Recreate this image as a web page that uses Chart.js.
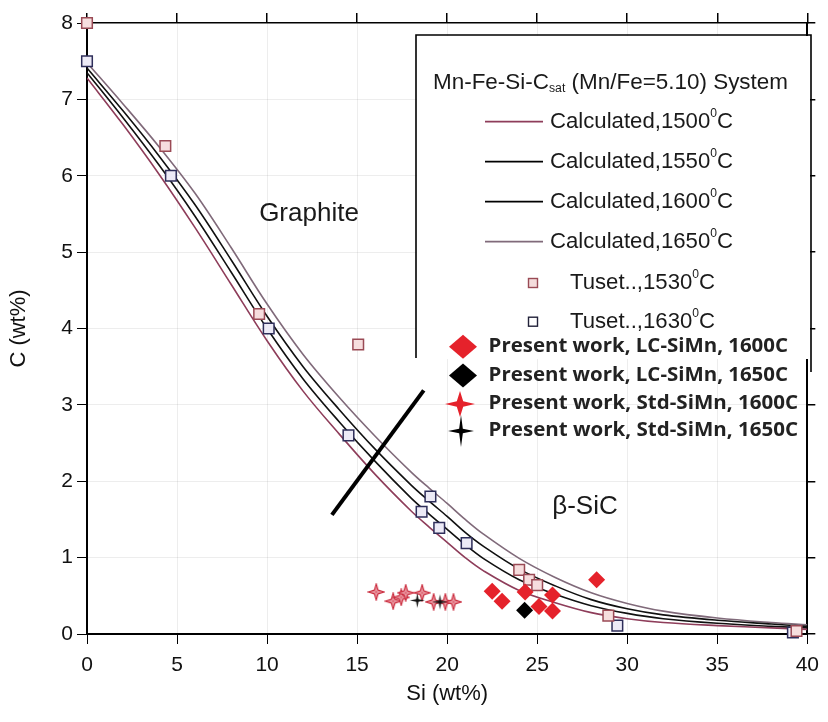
<!DOCTYPE html>
<html>
<head>
<meta charset="utf-8">
<script src="https://cdn.jsdelivr.net/npm/chart.js@4.4.0/dist/chart.umd.min.js"></script>
<style>
  html, body { margin: 0; padding: 0; background: #fff; }
  #wrap { width: 828px; height: 722px; position: relative; }
</style>
</head>
<body>
<div id="wrap"><canvas id="c" width="828" height="722"></canvas></div>
<script>
// ---- Calculated C-saturation curves (Si wt% grid, C wt%) ----
const siGrid   = [0, 2, 4, 6, 8, 10, 12, 14, 16, 18, 19, 20, 21, 22, 24, 26, 28, 30, 32, 35, 38, 40];
const calc1650 = [7.48, 6.94, 6.38, 5.77, 5.06, 4.32, 3.66, 3.10, 2.59, 2.12, 1.91, 1.71, 1.50, 1.31, 0.99, 0.74, 0.54, 0.40, 0.30, 0.21, 0.15, 0.12];
const calc1600 = [7.41, 6.85, 6.26, 5.62, 4.90, 4.16, 3.50, 2.94, 2.42, 1.95, 1.74, 1.54, 1.33, 1.15, 0.85, 0.63, 0.45, 0.33, 0.25, 0.18, 0.13, 0.10];
const calc1550 = [7.35, 6.76, 6.14, 5.47, 4.74, 4.00, 3.34, 2.78, 2.26, 1.78, 1.57, 1.37, 1.17, 0.99, 0.71, 0.52, 0.37, 0.27, 0.20, 0.14, 0.10, 0.08];
const calc1500 = [7.28, 6.67, 6.02, 5.32, 4.58, 3.84, 3.18, 2.62, 2.09, 1.61, 1.40, 1.20, 1.00, 0.83, 0.57, 0.41, 0.28, 0.20, 0.15, 0.11, 0.08, 0.06];

// ---- Literature data (Tuset) ----
const tuset1530Si = [0, 4.35, 9.56, 15.06, 24.0, 24.55, 25.0, 28.95, 39.4];
const tuset1530C  = [8.0, 6.39, 4.19, 3.79, 0.84, 0.71, 0.64, 0.24, 0.04];
const tuset1630Si = [0, 4.66, 10.09, 14.52, 18.58, 19.07, 19.56, 21.08, 29.45, 39.2];
const tuset1630C  = [7.5, 6.0, 4.0, 2.6, 1.6, 1.8, 1.39, 1.19, 0.11, 0.02];

// ---- Present work ----
const lc1600Si  = [22.5, 23.05, 24.33, 25.1, 25.85, 25.85, 28.3];
const lc1600C   = [0.56, 0.43, 0.55, 0.36, 0.51, 0.30, 0.71];
const lc1650Si  = [24.3];
const lc1650C   = [0.31];
const std1600Si = [16.06, 17.0, 17.45, 17.7, 18.61, 19.25, 19.9, 20.35];
const std1600C  = [0.55, 0.43, 0.48, 0.54, 0.54, 0.42, 0.42, 0.42];
const std1650Si = [18.34, 19.6];
const std1650C  = [0.44, 0.42];

// graphite / beta-SiC boundary marker line
const boundSi = [13.6, 18.7];
const boundC  = [1.56, 3.19];

// axis ticks
const siTicks = [0, 5, 10, 15, 20, 25, 30, 35, 40];
const cTicks  = [0, 1, 2, 3, 4, 5, 6, 7, 8];

const legendTitle = ['Mn-Fe-Si-C', 'sat', ' (Mn/Fe=5.10) System'];
const calcLabels  = ['Calculated,1500', 'Calculated,1550', 'Calculated,1600', 'Calculated,1650'];
const tusetLabels = ['Tuset..,1530', 'Tuset..,1630'];
const workLabels  = ['Present work, LC-SiMn, 1600C', 'Present work, LC-SiMn, 1650C',
                     'Present work, Std-SiMn, 1600C', 'Present work, Std-SiMn, 1650C'];

const pts = (xs, ys) => xs.map((x, i) => ({ x, y: ys[i] }));

// four-pointed star path
function starPath(g, cx, cy, rx, ry, k) {
  g.beginPath();
  for (let i = 0; i < 8; i++) {
    const a = i * Math.PI / 4 - Math.PI / 2;
    const f = i % 2 === 0 ? 1 : k;
    g.lineTo(cx + rx * f * Math.cos(a), cy + ry * f * Math.sin(a));
  }
  g.closePath();
}
function starImage(size, fill, stroke, k, cross) {
  const c = document.createElement('canvas');
  c.width = size; c.height = size;
  const g = c.getContext('2d');
  const r = size / 2 - 1;
  starPath(g, size / 2, size / 2, r, r, k);
  g.fillStyle = fill; g.fill();
  if (stroke) { g.strokeStyle = stroke; g.lineWidth = 1.2; g.stroke(); }
  if (cross) {
    g.strokeStyle = cross; g.lineWidth = 1;
    g.beginPath();
    g.moveTo(size / 2, 3); g.lineTo(size / 2, size - 3);
    g.moveTo(3, size / 2); g.lineTo(size - 3, size / 2);
    g.stroke();
  }
  return c;
}
const redStar = starImage(18, '#fbe1e4', '#c92a3c', 0.32, '#d84a5a');
const blackStar = starImage(17, '#111', null, 0.22, null);

const COL1500 = '#8e3d5a';
const COL1650 = '#806a7a';

function curve(label, ys, color, w) {
  return {
    label, data: pts(siGrid, ys), showLine: true, borderColor: color, borderWidth: w,
    pointRadius: 0, tension: 0.35, fill: false, order: 20
  };
}

// text runs with optional sub/superscripts, squeezed to a target width
function drawRuns(g, runs, x, y, width) {
  let total = 0;
  runs.forEach(r => { g.font = r.font; total += g.measureText(r.t).width; });
  const sx = width ? width / total : 1;
  g.save();
  g.translate(x, y);
  g.scale(sx, 1);
  let cx = 0;
  runs.forEach(r => {
    g.font = r.font;
    g.fillText(r.t, cx, r.dy || 0);
    cx += g.measureText(r.t).width;
  });
  g.restore();
}

const decor = {
  id: 'decor',
  beforeDatasetsDraw(chart) {
    const g = chart.ctx;
    g.save();
    g.fillStyle = '#fff';
    g.fillRect(417, 36, 393, 323);
    g.restore();
  },
  afterDatasetsDraw(chart) {
    const g = chart.ctx;
    g.save();
    g.fillStyle = '#1a1a1a';
    g.textBaseline = 'middle';
    g.font = '26px "Liberation Sans", Arial, sans-serif';
    g.textAlign = 'center';
    g.fillText('Graphite', 309, 214);
    g.fillText('\u03B2-SiC', 585, 507);
    g.textAlign = 'left';

    // legend frame (open at the bottom)
    g.strokeStyle = '#000';
    g.lineWidth = 1.6;
    g.beginPath();
    g.moveTo(416, 358); g.lineTo(416, 35); g.lineTo(811, 35); g.lineTo(811, 372);
    g.stroke();

    const F = '"Liberation Sans", Arial, sans-serif';
    const big = '22px ' + F, small = '12px ' + F;
    drawRuns(g, [{ t: legendTitle[0], font: big }, { t: legendTitle[1], font: small, dy: 6 },
                 { t: legendTitle[2], font: big }], 433, 83, 355);

    const rowY = [121.7, 161.7, 201.7, 241.7];
    const rowCol = [COL1500, '#000', '#000', COL1650];
    rowY.forEach((y, i) => {
      g.strokeStyle = rowCol[i];
      g.lineWidth = 1.8;
      g.beginPath(); g.moveTo(485, y); g.lineTo(543, y); g.stroke();
      drawRuns(g, [{ t: calcLabels[i], font: big }, { t: '0', font: small, dy: -8 }, { t: 'C', font: big }], 550, y, 183);
    });

    const tY = [283, 321.7];
    const tBorder = ['#9a4a55', '#22223a'];
    const tFill = ['#f4dcdc', '#ffffff'];
    tY.forEach((y, i) => {
      g.fillStyle = tFill[i]; g.strokeStyle = tBorder[i]; g.lineWidth = 1.4;
      g.fillRect(528.5, y - 4.5, 9, 9); g.strokeRect(528.5, y - 4.5, 9, 9);
      g.fillStyle = '#1a1a1a';
      drawRuns(g, [{ t: tusetLabels[i], font: big }, { t: '0', font: small, dy: -8 }, { t: 'C', font: big }], 570, y, 145);
    });

    // present-work entries
    const wY = [346.8, 375.5, 404, 431];
    const wEnd = [788, 788, 798, 798];
    const WF = 'bold 19px "Open Sans", "Noto Sans", sans-serif';
    g.fillStyle = '#e5222b';
    g.beginPath(); g.moveTo(463, wY[0] - 12); g.lineTo(477, wY[0]); g.lineTo(463, wY[0] + 12); g.lineTo(449, wY[0]); g.closePath(); g.fill();
    g.fillStyle = '#000';
    g.beginPath(); g.moveTo(463, wY[1] - 12); g.lineTo(477, wY[1]); g.lineTo(463, wY[1] + 12); g.lineTo(449, wY[1]); g.closePath(); g.fill();
    g.fillStyle = '#e5222b';
    starPath(g, 460, wY[2], 15, 13, 0.3); g.fill();
    g.fillStyle = '#000';
    starPath(g, 461, wY[3], 13, 16, 0.2); g.fill();

    g.fillStyle = '#222';
    wY.forEach((y, i) => {
      drawRuns(g, [{ t: workLabels[i], font: WF }], 488.6, y, wEnd[i] - 488.6);
    });
    g.restore();
  }
};

const FONT = '"Liberation Sans", Arial, sans-serif';
const edgeX = v => (v === siTicks[0] || v === siTicks[siTicks.length - 1]);
const edgeY = v => (v === cTicks[0] || v === cTicks[cTicks.length - 1]);

new Chart(document.getElementById('c'), {
  type: 'scatter',
  data: {
    datasets: [
      { label: workLabels[1], data: pts(lc1650Si, lc1650C), pointStyle: 'rectRot', pointRadius: 8.5,
        backgroundColor: '#000', borderColor: '#000', borderWidth: 0, order: 1, clip: false },
      { label: workLabels[0], data: pts(lc1600Si, lc1600C), pointStyle: 'rectRot', pointRadius: 8.5,
        backgroundColor: '#e5222b', borderColor: '#e5222b', borderWidth: 0, order: 2, clip: false },
      { label: workLabels[3], data: pts(std1650Si, std1650C), pointStyle: blackStar, order: 3, clip: false },
      { label: workLabels[2], data: pts(std1600Si, std1600C), pointStyle: redStar, order: 4, clip: false },
      { label: tusetLabels[0], data: pts(tuset1530Si, tuset1530C), pointStyle: 'rect', pointRadius: 7.5,
        backgroundColor: '#f6dede', borderColor: '#9a4a55', borderWidth: 1.5, order: 5, clip: false },
      { label: tusetLabels[1], data: pts(tuset1630Si, tuset1630C), pointStyle: 'rect', pointRadius: 7.5,
        backgroundColor: '#eceaf6', borderColor: '#2e2e5a', borderWidth: 1.5, order: 6, clip: false },
      { label: 'boundary', data: pts(boundSi, boundC), showLine: true, borderColor: '#000', borderWidth: 4,
        pointRadius: 0, order: 10 },
      curve(calcLabels[0], calc1500, COL1500, 1.6),
      curve(calcLabels[1], calc1550, '#111', 1.6),
      curve(calcLabels[2], calc1600, '#111', 1.6),
      curve(calcLabels[3], calc1650, COL1650, 1.6)
    ]
  },
  options: {
    responsive: false,
    animation: false,
    devicePixelRatio: 1,
    layout: { padding: 0 },
    plugins: { legend: { display: false }, tooltip: { enabled: false } },
    scales: {
      x: {
        type: 'linear', position: 'bottom', min: 0, max: 40,
        afterBuildTicks: s => { s.ticks = siTicks.map(v => ({ value: v })); },
        ticks: { font: { family: FONT, size: 21 }, color: '#111', padding: 9 },
        grid: { color: c => edgeX(c.tick.value) ? 'rgba(0,0,0,0)' : 'rgba(0,0,0,0.07)',
                tickColor: '#000', tickLength: 10, lineWidth: 1 },
        border: { color: '#000', width: 2 },
        title: { display: true, text: 'Si (wt%)', font: { family: FONT, size: 22 }, color: '#111',
                 padding: { top: 0, bottom: 15 } },
        afterFit: s => { s.height = 88; }
      },
      y: {
        type: 'linear', position: 'left', min: 0, max: 8,
        afterBuildTicks: s => { s.ticks = cTicks.map(v => ({ value: v })); },
        ticks: { font: { family: FONT, size: 21 }, color: '#111', padding: 4 },
        grid: { color: c => edgeY(c.tick.value) ? 'rgba(0,0,0,0)' : 'rgba(0,0,0,0.07)',
                tickColor: '#000', tickLength: 10, lineWidth: 1 },
        border: { color: '#000', width: 2 },
        title: { display: true, text: 'C (wt%)', font: { family: FONT, size: 22 }, color: '#111',
                 padding: { top: 6, bottom: 0 } },
        afterFit: s => { s.width = 87; }
      },
      x2: {
        type: 'linear', position: 'top', min: 0, max: 40,
        afterBuildTicks: s => { s.ticks = siTicks.map(v => ({ value: v })); },
        ticks: { display: false },
        grid: { drawOnChartArea: false, tickColor: '#000', tickLength: 10, lineWidth: 1.5 },
        border: { color: '#000', width: 1.5 },
        afterFit: s => { s.height = 23; }
      },
      y2: {
        type: 'linear', position: 'right', min: 0, max: 8,
        afterBuildTicks: s => { s.ticks = cTicks.map(v => ({ value: v })); },
        ticks: { display: false },
        grid: { drawOnChartArea: false, tickColor: '#000', tickLength: 8, lineWidth: 1.5 },
        border: { color: '#000', width: 2 },
        afterFit: s => { s.width = 9; }
      }
    }
  },
  plugins: [decor]
});
</script>
</body>
</html>
